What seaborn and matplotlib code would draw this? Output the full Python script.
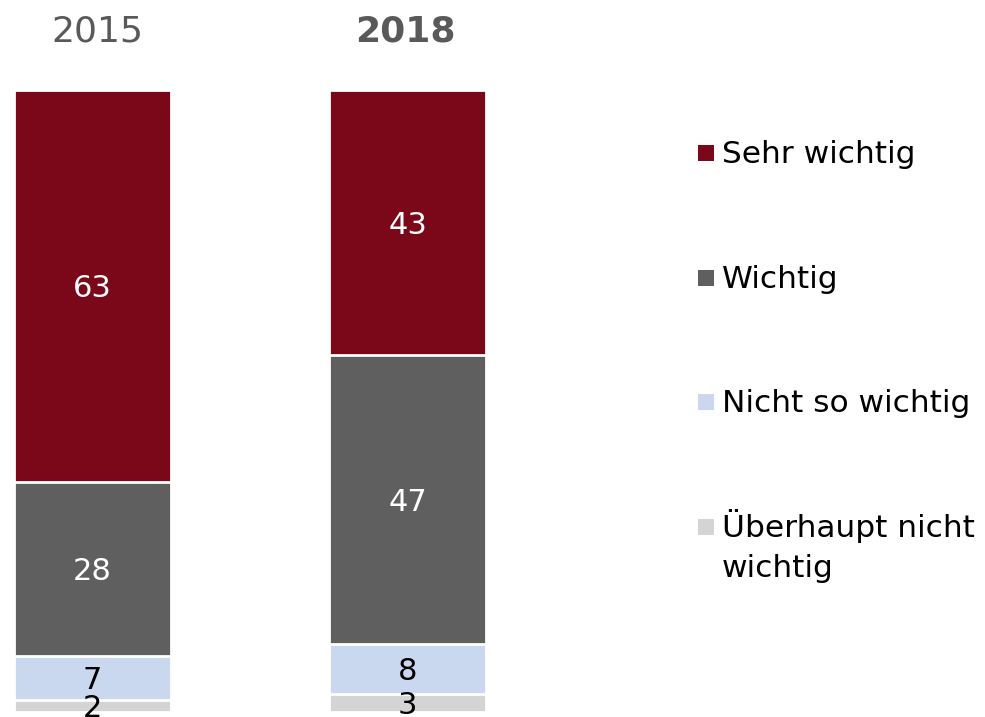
import numpy as np
import pandas as pd
import matplotlib
matplotlib.use("Agg")
import matplotlib.pyplot as plt
import seaborn as sns
from matplotlib.patches import Rectangle

# ---- data ----
years = ["2015", "2018"]
categories = ["Überhaupt nicht wichtig", "Nicht so wichtig", "Wichtig", "Sehr wichtig"]  # bottom -> top
values_2015 = [2, 7, 28, 63]
values_2018 = [3, 8, 47, 43]
legend_labels = ["Sehr wichtig", "Wichtig", "Nicht so wichtig", "Überhaupt nicht", "wichtig"]

colors = ["#D4D4D4", "#C9D8EF", "#5F5F5F", "#7A0819"]
label_colors = ["black", "black", "white", "white"]

sns.set_style("white")
plt.rcParams["font.family"] = ["DejaVu Sans"]

W, H = 985, 717
fig = plt.figure(figsize=(W / 100, H / 100), dpi=100)
ax = fig.add_axes([0, 0, 1, 1])

rows = []
for y, vals in zip(years, [values_2015, values_2018]):
    total = sum(vals)
    cum = 0.0
    for cat, v in zip(categories, vals):
        share = v / total * 100
        rows.append(dict(year=y, category=cat, value=v, bottom=cum, top=cum + share))
        cum += share
df = pd.DataFrame(rows)

bar_w = 157 / 315
for i in reversed(range(len(categories))):
    sub = df[df["category"] == categories[i]]
    sns.barplot(data=sub, x="year", y="top", order=years, color=colors[i],
                saturation=1, width=bar_w, edgecolor="white", linewidth=2,
                errorbar=None, ax=ax)

# labels
for _, r in df.iterrows():
    xi = years.index(r["year"])
    ci = categories.index(r["category"])
    ax.annotate(str(r["value"]), xy=(xi, (r["bottom"] + r["top"]) / 2),
                xytext=(0, -8), textcoords="offset points",
                ha="center", va="baseline", fontsize=22, color=label_colors[ci])

ppu = 622 / 100
ax.set_xlim(-92.5 / 315, (W - 92.5) / 315)
ax.set_ylim(-(H - 712) / ppu, 712 / ppu)
ax.axis("off")

# year headers
fig.text(97 / W, 1 - 42 / H, "2015", ha="center", va="baseline", fontsize=26, color="#595959")
fig.text(405 / W, 1 - 42 / H, "2018", ha="center", va="baseline", fontsize=26,
         color="#595959", fontweight="bold")

# legend (manual)
leg_colors = [colors[3], colors[2], colors[1], colors[0]]
sq_centers = [153, 278, 402, 527]
baselines = [163, 288, 412, 537]
for c, yc in zip(leg_colors, sq_centers):
    fig.patches.append(Rectangle((698 / W, 1 - (yc + 8) / H), 16 / W, 16 / H,
                                 transform=fig.transFigure, facecolor=c, edgecolor="none"))
texts_y = baselines + [577]
for t, yb in zip(legend_labels, texts_y):
    fig.text(722 / W, 1 - yb / H, t, ha="left", va="baseline", fontsize=22.5, color="black")

fig.savefig("out.png", dpi=100)
